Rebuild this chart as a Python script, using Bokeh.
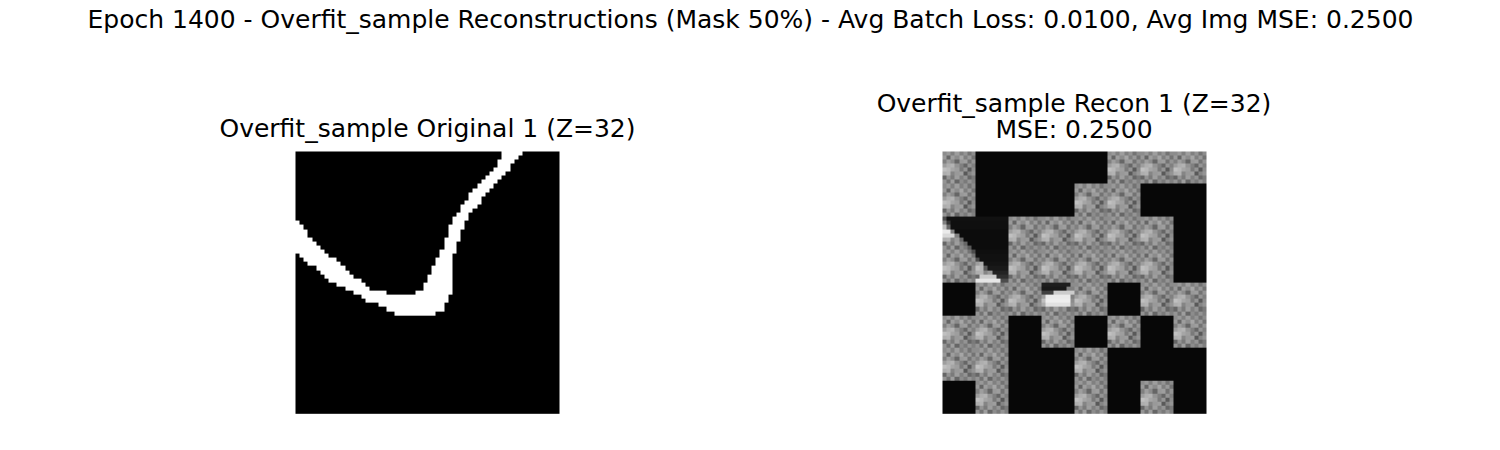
import numpy as np
from bokeh.core.properties import value
from bokeh.embed import file_html
from bokeh.models import ColumnDataSource, LinearColorMapper, Range1d
from bokeh.palettes import Greys256
from bokeh.plotting import figure
from bokeh.resources import INLINE

EPOCH = 1400
SPLIT = "Overfit_sample"
MASK_PCT = 50
AVG_BATCH_LOSS = 0.0100
AVG_IMG_MSE = 0.2500
SAMPLE_IDX = 1
Z_DIM = 32
RECON_MSE = 0.2500

IMG_SIZE = 64
PATCH = 8

# white pixels of the original sample: (row, first col, last col)
ORIGINAL_SPANS = [
    (0, 50, 54), (1, 50, 53), (2, 49, 52), (3, 49, 51), (4, 48, 51),
    (5, 47, 50), (6, 46, 49), (7, 45, 48), (8, 44, 47), (9, 43, 46),
    (10, 42, 45), (11, 42, 44), (12, 41, 44), (13, 40, 43), (14, 40, 42),
    (15, 39, 41), (16, 38, 41),
    (17, 0, 0), (17, 38, 40), (18, 0, 1), (18, 37, 40),
    (19, 0, 2), (19, 37, 39), (20, 0, 2), (20, 37, 39),
    (21, 0, 3), (21, 36, 39), (22, 0, 4), (22, 36, 38),
    (23, 0, 5), (23, 36, 38), (24, 0, 6), (24, 35, 38),
    (25, 1, 7), (25, 35, 37), (26, 2, 9), (26, 34, 37),
    (27, 3, 10), (27, 34, 37), (28, 5, 11), (28, 33, 37),
    (29, 6, 12), (29, 33, 37), (30, 7, 13), (30, 32, 37),
    (31, 8, 15), (31, 32, 37), (32, 10, 16), (32, 31, 37),
    (33, 12, 17), (33, 31, 37), (34, 14, 21), (34, 29, 37),
    (35, 16, 36), (36, 17, 36), (37, 20, 35), (38, 22, 35), (39, 24, 33),
]

# 1 = patch comes back as the grey texture, 0 = near black
PATCH_GRID = [
    [1, 0, 0, 0, 0, 1, 1, 1],
    [1, 0, 0, 0, 1, 1, 0, 0],
    [1, 1, 1, 1, 1, 1, 1, 0],
    [1, 1, 1, 1, 1, 1, 1, 0],
    [0, 1, 1, 1, 1, 0, 1, 1],
    [1, 1, 0, 1, 0, 1, 0, 1],
    [1, 1, 0, 0, 1, 0, 0, 0],
    [0, 1, 0, 0, 1, 0, 1, 0],
]

PATCH_TEXTURE = [
    [0.55, 0.60, 0.50, 0.62, 0.50, 0.58, 0.45, 0.55],
    [0.60, 0.40, 0.62, 0.55, 0.65, 0.50, 0.60, 0.45],
    [0.50, 0.62, 0.55, 0.40, 0.60, 0.62, 0.45, 0.58],
    [0.62, 0.68, 0.70, 0.58, 0.50, 0.40, 0.58, 0.50],
    [0.75, 0.72, 0.65, 0.62, 0.48, 0.58, 0.35, 0.55],
    [0.68, 0.70, 0.52, 0.60, 0.62, 0.35, 0.52, 0.58],
    [0.40, 0.58, 0.48, 0.62, 0.50, 0.58, 0.40, 0.48],
    [0.58, 0.45, 0.62, 0.40, 0.55, 0.48, 0.58, 0.50],
]
BLACK_LEVEL = 0.03

# spots where the reconstruction differs from the texture: (row, first col, last col, level)
RECON_SPANS = [
    (16, 0, 0, 0.30), (16, 1, 15, 0.07),
    (17, 0, 0, 0.50), (17, 1, 1, 0.20), (17, 2, 15, 0.06),
    (18, 0, 0, 0.75), (18, 1, 1, 0.40), (18, 2, 15, 0.06),
    (19, 0, 1, 0.92), (19, 2, 2, 0.50), (19, 3, 15, 0.05),
    (20, 0, 2, 0.85), (20, 3, 3, 0.50), (20, 4, 15, 0.05),
    (21, 4, 4, 0.40), (21, 5, 15, 0.05),
    (22, 5, 5, 0.40), (22, 6, 15, 0.05),
    (23, 6, 6, 0.35), (23, 7, 15, 0.05),
    (24, 7, 7, 0.30), (24, 8, 15, 0.06), (25, 8, 15, 0.07),
    (26, 8, 8, 0.30), (26, 9, 15, 0.07), (27, 10, 15, 0.08),
    (28, 10, 10, 0.35), (28, 11, 15, 0.10), (29, 12, 15, 0.14),
    (30, 9, 12, 0.80), (30, 13, 15, 0.18),
    (31, 8, 13, 0.90), (31, 14, 15, 0.30),
    (32, 24, 30, 0.12), (33, 24, 29, 0.10), (33, 30, 31, 0.50),
    (34, 24, 26, 0.25), (34, 27, 31, 0.80),
    (35, 25, 30, 0.92), (36, 25, 30, 0.93), (37, 25, 30, 0.88),
]

W, H = 1484, 434
TEXT_NUDGE = 10  # svg text sits lower than the requested baseline


def build_original():
    img = np.zeros((IMG_SIZE, IMG_SIZE))
    for r, c0, c1 in ORIGINAL_SPANS:
        img[r, c0:c1 + 1] = 1.0
    return img


def build_recon():
    img = np.full((IMG_SIZE, IMG_SIZE), BLACK_LEVEL)
    tex = np.array(PATCH_TEXTURE)
    for i, row in enumerate(PATCH_GRID):
        for j, on in enumerate(row):
            if on:
                img[i * PATCH:(i + 1) * PATCH, j * PATCH:(j + 1) * PATCH] = tex
    for r, c0, c1, lvl in RECON_SPANS:
        img[r, c0:c1 + 1] = lvl
    return img


p = figure(
    width=W, height=H,
    x_range=Range1d(0, W), y_range=Range1d(0, H),
    output_backend="svg", toolbar_location=None,
    min_border=0, outline_line_color=None,
)
p.axis.visible = False
p.grid.visible = False

cmap = LinearColorMapper(palette=Greys256, low=0, high=1)

# image boxes in canvas pixels (left, bottom, width, height)
panels = [(295, 20.7, 264, 262.3, build_original()), (942, 20.7, 264, 262.3, build_recon())]
for x0, y0, dw, dh, img in panels:
    p.image(image=[np.flipud(img)], x=x0, y=y0, dw=dw, dh=dh, color_mapper=cmap)

suptitle = (f"Epoch {EPOCH} - {SPLIT} Reconstructions (Mask {MASK_PCT}%) - "
            f"Avg Batch Loss: {AVG_BATCH_LOSS:.4f}, Avg Img MSE: {AVG_IMG_MSE:.4f}")
p.text(x=[750], y=[H - 28.5 + TEXT_NUDGE], text=[suptitle], text_align="center",
       text_baseline="alphabetic", text_font=value("DejaVu Sans"),
       text_font_size="25px", text_color="black")

titles = ColumnDataSource(data=dict(
    x=[427, 1073.5, 1073.5],
    y=[H - 138.3 + TEXT_NUDGE, H - 113.3 + TEXT_NUDGE, H - 138.8 + TEXT_NUDGE],
    text=[f"{SPLIT} Original {SAMPLE_IDX} (Z={Z_DIM})",
          f"{SPLIT} Recon {SAMPLE_IDX} (Z={Z_DIM})",
          f"MSE: {RECON_MSE:.4f}"],
))
p.text(x="x", y="y", text="text", source=titles, text_align="center",
       text_baseline="alphabetic", text_font=value("DejaVu Sans"),
       text_font_size="25px", text_color="black")

open("out.html", "w").write(file_html(p, INLINE))
